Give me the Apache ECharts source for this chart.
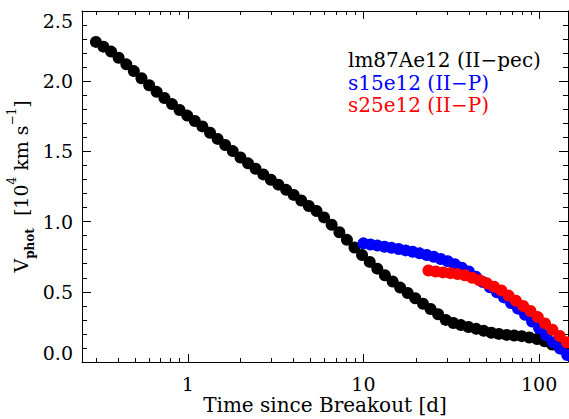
<!DOCTYPE html>
<html>
<head>
<meta charset="utf-8">
<script src="https://cdn.jsdelivr.net/npm/echarts@6/dist/echarts.min.js"></script>
<style>html,body{margin:0;padding:0;background:#fff}#c{width:569px;height:419px}</style>
</head>
<body>
<div id="c"></div>
<script>
const seriesNames = ['lm87Ae12 (II\u2212pec)', 's15e12 (II\u2212P)', 's25e12 (II\u2212P)'];
const seriesColors = ['#000000', '#0000ff', '#ff0000'];

const blackT = [0.300,0.331,0.366,0.404,0.447,0.493,0.545,0.603,0.665,0.736,0.813,0.898,0.993,1.097,1.211,1.339,1.479,1.633,1.803,1.995,2.203,2.432,2.692,2.972,3.281,3.631,4.009,4.426,4.887,5.408,5.970,6.592,7.295,8.054,8.892,9.817,10.86,11.99,13.24,14.66,16.18,17.86,19.72,21.83,24.10,26.61,29.44,32.51,35.89,39.63,43.85,48.42,53.46,59.02,65.31,72.11,79.62,87.90,97.27,107.4,118.6,130.9];
const blackV = [2.28,2.246,2.211,2.167,2.12,2.072,2.021,1.971,1.924,1.88,1.837,1.795,1.755,1.717,1.678,1.633,1.589,1.546,1.502,1.457,1.415,1.376,1.336,1.298,1.263,1.226,1.19,1.15,1.111,1.075,1.03,0.978,0.924,0.87,0.815,0.762,0.713,0.665,0.618,0.573,0.53,0.491,0.454,0.415,0.377,0.34,0.30,0.278,0.263,0.249,0.236,0.222,0.208,0.20,0.193,0.189,0.184,0.174,0.164,0.148,0.125,0.105];

const blueT = [10.0,10.96,12.02,13.18,14.45,15.85,17.38,19.05,20.89,22.91,25.12,27.54,30.20,33.11,36.31,39.81,43.65,47.86,52.48,57.54,63.10,69.18,75.86,83.18,91.20,100.0,109.6,120.2,131.8,144.5];
const blueV = [0.845,0.837,0.829,0.821,0.813,0.805,0.795,0.785,0.774,0.762,0.75,0.734,0.718,0.697,0.671,0.645,0.607,0.569,0.532,0.496,0.46,0.42,0.38,0.336,0.288,0.24,0.19,0.14,0.095,0.05];

const redT = [23.44,25.79,28.38,31.23,34.36,37.80,41.59,45.76,50.35,55.40,60.95,67.06,73.79,81.19,89.33,98.29,108.1,119.0,130.9,144.0];
const redV = [0.652,0.645,0.638,0.633,0.626,0.618,0.600,0.582,0.561,0.536,0.51,0.473,0.436,0.399,0.363,0.320,0.275,0.230,0.185,0.14];

const xMajorTicks = [1, 10, 100];
const xMinorTicks = [0.3,0.4,0.5,0.6,0.7,0.8,0.9,2,3,4,5,6,7,8,9,20,30,40,50,60,70,80,90];
const xMin = 0.25, xMax = 146;
const yMin = 0, yMax = 2.5, yStep = 0.5;
const xTitle = 'Time since Breakout [d]';

const F = '"DejaVu Serif", serif';
const FS = 19;
const AX = '#000';

function zip(a, b) { return a.map((v, i) => [v, b[i]]); }

function xAx(pos, ticks, len, major, withLine) {
  return {
    type: 'log', logBase: 10, min: xMin, max: xMax, position: pos,
    axisLine: { show: withLine, onZero: false, lineStyle: { color: AX, width: 1 } },
    axisTick: { show: true, inside: true, length: len, customValues: ticks, lineStyle: { color: AX, width: 1 } },
    axisLabel: (major && pos === 'bottom') ? { show: true, customValues: ticks, margin: 12, color: '#000', fontFamily: F, fontSize: FS, formatter: v => String(Math.round(v)) } : { show: false },
    minorTick: { show: false }, splitLine: { show: false }, minorSplitLine: { show: false }
  };
}
function yAx(pos, labels) {
  return {
    type: 'value', min: yMin, max: yMax, interval: yStep, position: pos,
    axisLine: { show: true, onZero: false, lineStyle: { color: AX, width: 1 } },
    axisTick: { show: true, inside: true, length: 9, lineStyle: { color: AX, width: 1 } },
    minorTick: { show: true, splitNumber: 5, length: 5, lineStyle: { color: AX, width: 1 } },
    axisLabel: labels ? { show: true, margin: 9, color: '#000', fontFamily: F, fontSize: FS, formatter: v => v.toFixed(1), verticalAlignMinLabel: 'bottom', verticalAlignMaxLabel: 'top' } : { show: false },
    splitLine: { show: false }, minorSplitLine: { show: false }
  };
}

const xAxes = [
  xAx('bottom', xMajorTicks, 8, true, true),
  xAx('bottom', xMinorTicks, 4, false, false),
  xAx('top', xMajorTicks, 8, true, true),
  xAx('top', xMinorTicks, 4, false, false)
];
Object.assign(xAxes[0], { name: xTitle, nameLocation: 'middle', nameGap: 33, nameMoveOverlap: false, nameTextStyle: { fontFamily: F, fontSize: 20, lineHeight: 20, color: '#000' } });

const yAxes = [yAx('left', true), yAx('right', false)];
Object.assign(yAxes[0], {
  name: '{v|V}{sub|phot}{t|  [10}{sup|4}{t| km s}{sup|\u22121}{t|]}',
  nameLocation: 'middle', nameRotate: 90, nameGap: 46, nameMoveOverlap: false,
  nameTextStyle: {
    color: '#000',
    rich: {
      v: { fontFamily: F, fontSize: FS, color: '#000', lineHeight: 30, verticalAlign: 'middle' },
      t: { fontFamily: F, fontSize: FS, color: '#000', lineHeight: 30, verticalAlign: 'middle' },
      sub: { fontFamily: F, fontSize: 12, fontWeight: 'bold', color: '#000', lineHeight: 12, verticalAlign: 'bottom' },
      sup: { fontFamily: F, fontSize: 12, color: '#000', lineHeight: 12, verticalAlign: 'top' }
    }
  }
});

const dataSets = [zip(blackT, blackV), zip(blueT, blueV), zip(redT, redV)];

const chart = echarts.init(document.getElementById('c'), null, { renderer: 'svg' });
chart.setOption({
  animation: false,
  backgroundColor: '#fff',
  grid: { left: 82, right: 1, top: 11, bottom: 57, containLabel: false, outerBoundsMode: 'none' },
  xAxis: xAxes,
  yAxis: yAxes,
  legend: {
    orient: 'vertical', left: 343, top: 50, padding: 0, itemGap: 2.5,
    itemWidth: 0, itemHeight: 0, icon: 'rect', selectedMode: false,
    textStyle: { fontFamily: F, fontSize: 20 },
    data: seriesNames.map((n, i) => ({ name: n, textStyle: { color: seriesColors[i], fontFamily: F, fontSize: 20 } }))
  },
  series: seriesNames.map((n, i) => ({
    name: n, type: 'scatter', xAxisIndex: 0, yAxisIndex: 0,
    symbol: 'circle', symbolSize: 12, z: 2 + i,
    itemStyle: { color: seriesColors[i], opacity: 1 },
    emphasis: { disabled: true },
    data: dataSets[i]
  }))
});
</script>
</body>
</html>
